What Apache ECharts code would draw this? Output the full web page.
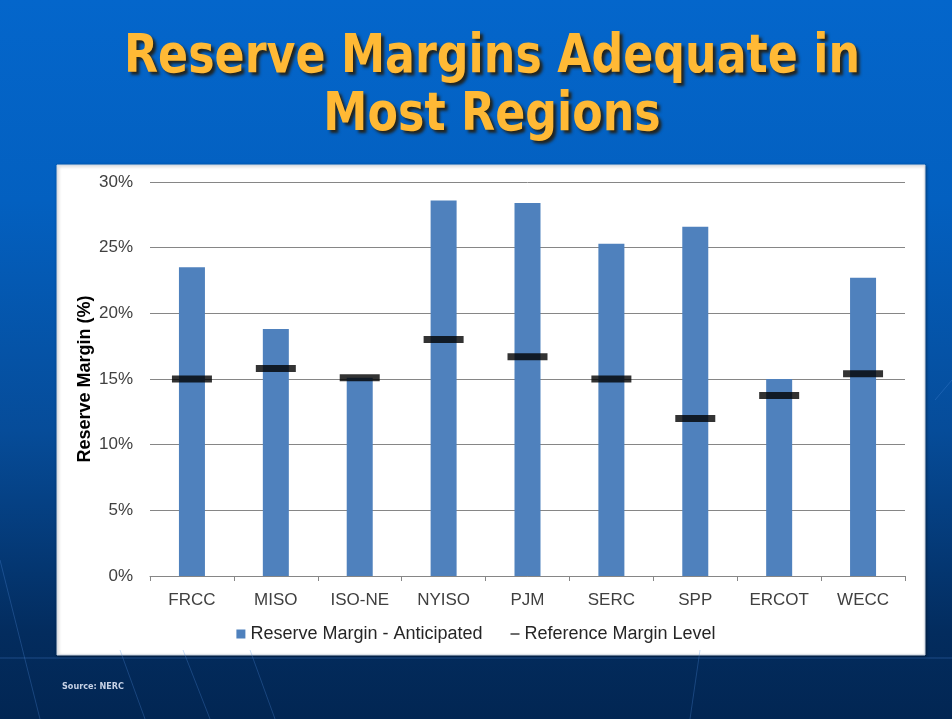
<!DOCTYPE html>
<html>
<head>
<meta charset="utf-8">
<script src="https://cdn.jsdelivr.net/npm/echarts@6/dist/echarts.min.js"></script>
<style>
  html, body { margin: 0; padding: 0; }
  #chart { width: 952px; height: 719px; }
</style>
</head>
<body>
<div id="chart"></div>
<script>
// regions on the x axis
const regions = ['FRCC', 'MISO', 'ISO-NE', 'NYISO', 'PJM', 'SERC', 'SPP', 'ERCOT', 'WECC']
// anticipated reserve margin (%)
const anticipated = [23.5, 18.8, 15.1, 28.6, 28.4, 25.3, 26.6, 15.0, 22.7]
// reference margin level (%)
const reference = [15.0, 15.8, 15.1, 18.0, 16.7, 15.0, 12.0, 13.75, 15.4]
// y axis ticks
const yTicks = [0, 5, 10, 15, 20, 25, 30]

const chart = echarts.init(document.getElementById('chart'))

const faint = { stroke: 'rgba(80,140,220,0.3)', lineWidth: 1 }

const option = {
  backgroundColor: new echarts.graphic.LinearGradient(0, 0, 0, 1, [
    { offset: 0, color: '#0466cb' },
    { offset: 0.28, color: '#0360c0' },
    { offset: 0.6, color: '#064c99' },
    { offset: 0.88, color: '#032c5e' },
    { offset: 1, color: '#022653' }
  ]),
  graphic: [
    // slide title (slightly condensed)
    {
      type: 'text',
      x: 492,
      y: 29,
      scaleX: 0.93,
      silent: true,
      style: {
        text: 'Reserve Margins Adequate in\nMost Regions',
        textAlign: 'center',
        textVerticalAlign: 'top',
        font: 'bold 53px "DejaVu Sans Condensed"',
        lineHeight: 58,
        fill: '#ffb935',
        textShadowColor: 'rgba(40, 25, 0, 0.85)',
        textShadowBlur: 3,
        textShadowOffsetX: 3,
        textShadowOffsetY: 3
      }
    },
    // faint decorative lines in the lower slide area
    { type: 'line', silent: true, shape: { x1: 0, y1: 658, x2: 952, y2: 658 }, style: { stroke: 'rgba(80,140,220,0.35)', lineWidth: 1 } },
    { type: 'line', silent: true, shape: { x1: 0, y1: 560, x2: 40, y2: 719 }, style: faint },
    { type: 'line', silent: true, shape: { x1: 120, y1: 650, x2: 145, y2: 719 }, style: faint },
    { type: 'line', silent: true, shape: { x1: 183, y1: 650, x2: 210, y2: 719 }, style: faint },
    { type: 'line', silent: true, shape: { x1: 250, y1: 650, x2: 275, y2: 719 }, style: faint },
    { type: 'line', silent: true, shape: { x1: 700, y1: 650, x2: 690, y2: 719 }, style: faint },
    { type: 'line', silent: true, shape: { x1: 935, y1: 400, x2: 952, y2: 380 }, style: faint },
    // white chart panel
    {
      type: 'rect',
      z: -1,
      silent: true,
      shape: { x: 57, y: 165, width: 868, height: 490 },
      style: { fill: '#ffffff', stroke: '#c9d4e2', lineWidth: 1, shadowColor: 'rgba(0,0,0,0.35)', shadowBlur: 3, shadowOffsetX: 1, shadowOffsetY: 1 }
    },
    {
      type: 'text',
      left: 62,
      top: 682,
      silent: true,
      style: { text: 'Source: NERC', fill: '#c7d2e6', font: 'bold 9px "DejaVu Sans Condensed"' }
    }
  ],
  grid: {
    left: 150,
    right: 47,
    top: 182,
    bottom: 143
  },
  legend: {
    top: 620,
    left: 'center',
    itemGap: 28,
    itemWidth: 9,
    itemHeight: 9,
    textStyle: { fontFamily: 'Liberation Sans', fontSize: 18, color: '#262626' },
    data: [
      { name: 'Reserve Margin - Anticipated', icon: 'rect' },
      { name: 'Reference Margin Level', icon: 'path://M0,0H10V1.6H0Z' }
    ]
  },
  xAxis: {
    type: 'category',
    data: regions,
    axisLine: { lineStyle: { color: '#868686', width: 1 } },
    axisTick: { show: true, length: 5, lineStyle: { color: '#868686' } },
    axisLabel: { fontFamily: 'Liberation Sans', fontSize: 17, color: '#404040', margin: 16 }
  },
  yAxis: {
    type: 'value',
    min: yTicks[0],
    max: yTicks[yTicks.length - 1],
    interval: 5,
    name: 'Reserve Margin (%)',
    nameLocation: 'middle',
    nameGap: 56,
    nameMoveOverlap: false,
    nameTextStyle: { fontFamily: 'Liberation Sans', fontSize: 18, fontWeight: 'bold', color: '#000' },
    axisLine: { show: false },
    axisTick: { show: false },
    axisLabel: { fontFamily: 'Liberation Sans', fontSize: 17, color: '#404040', margin: 17, formatter: '{value}%' },
    splitLine: { lineStyle: { color: '#868686', width: 1 } }
  },
  series: [
    {
      name: 'Reserve Margin - Anticipated',
      type: 'bar',
      barWidth: 26,
      itemStyle: { color: '#4f81bd' },
      data: anticipated
    },
    {
      name: 'Reference Margin Level',
      type: 'scatter',
      symbol: 'rect',
      symbolSize: [40, 7],
      z: 5,
      itemStyle: { color: '#000' },
      data: reference
    }
  ]
}

chart.setOption(option)
</script>
</body>
</html>
